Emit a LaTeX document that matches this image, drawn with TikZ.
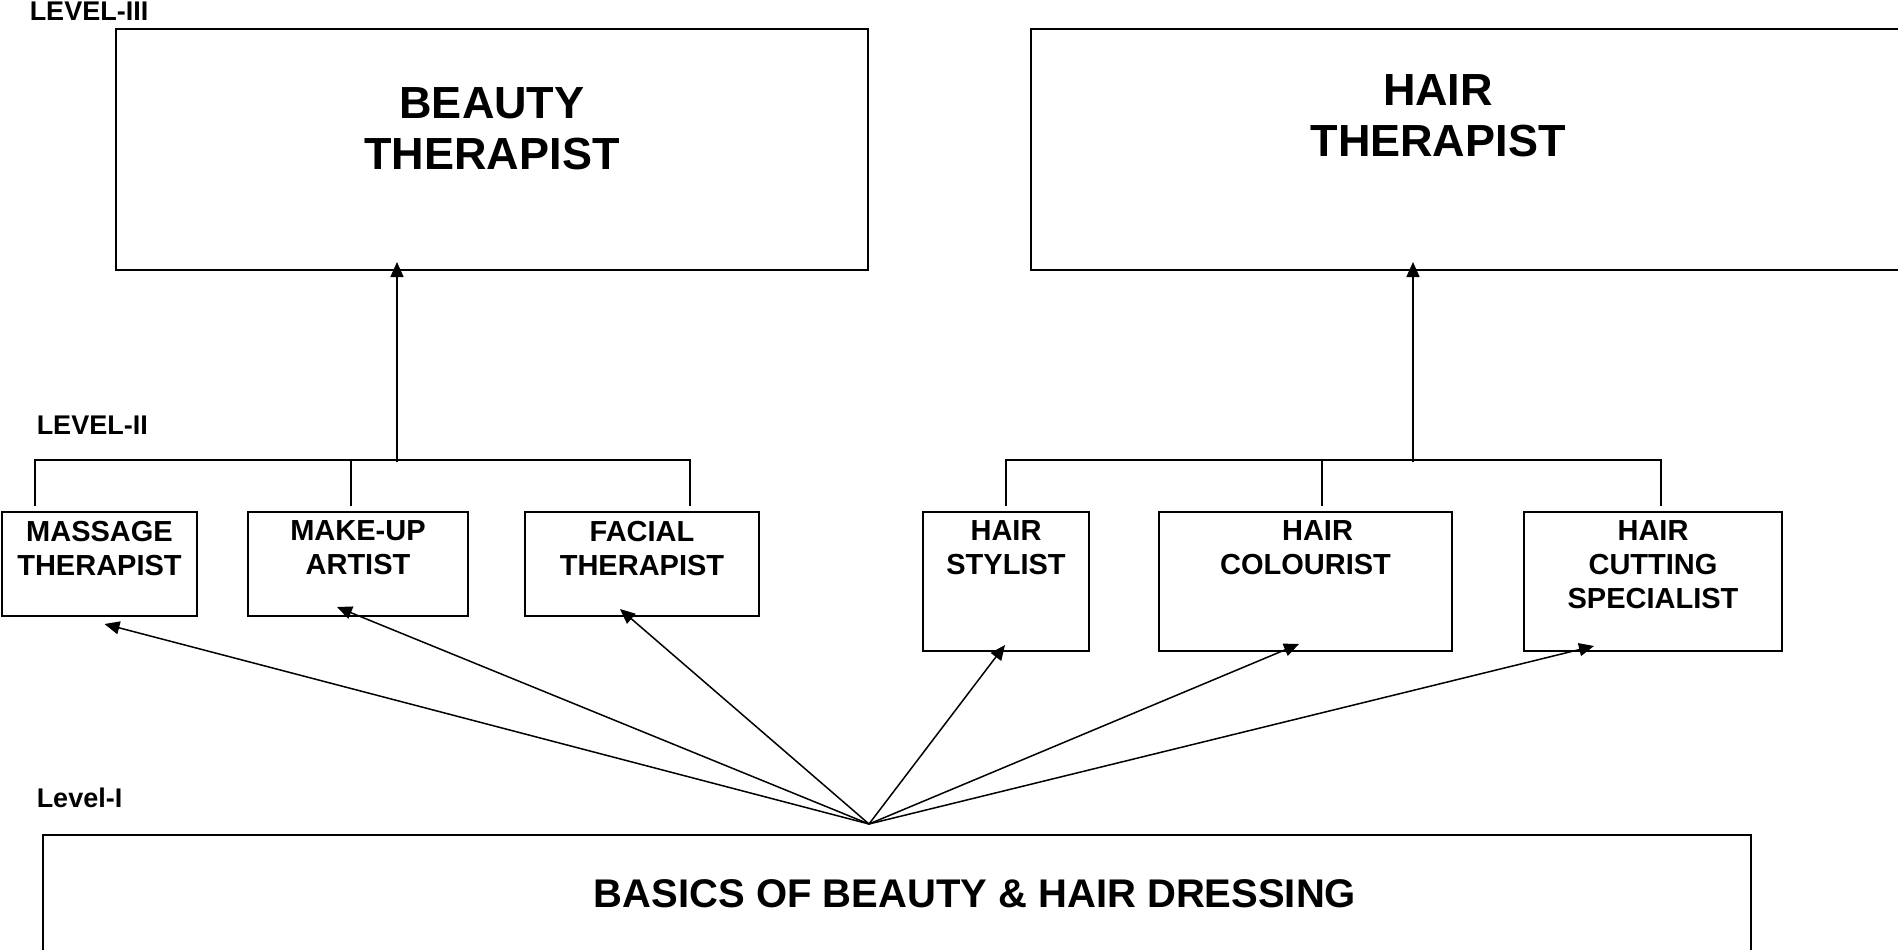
\documentclass[tikz,border=0pt]{standalone}
\usepackage{fontspec}
\setmainfont{Liberation Sans}
\usepackage{tikz}
\usetikzlibrary{positioning,arrows.meta}

\begin{document}
\begin{tikzpicture}[x=1pt,y=-1pt,line width=1.5pt]
\tikzset{jobbox/.style=
	{draw,line width=2pt,anchor=north west,inner sep=0pt},
	jobtext/.style=
	{inner sep=0pt,align=center,font=\bfseries\fontsize{29}{34}\selectfont},
	bigtext/.style=
	{inner sep=0pt,align=center,font=\bfseries\fontsize{45}{51}\selectfont},
	leveltext/.style=
	{inner sep=0pt,anchor=west,font=\bfseries\fontsize{27}{31}\selectfont},
	uparrow/.style=
	{-{Triangle[length=15pt,width=13pt]}}}
\clip (0,0) rectangle (1898,950);

\node[leveltext] (lvlthree) at (29,11) {LEVEL-III};
\node[jobbox,minimum width=752pt,minimum height=241pt] (beauty) at (115,28) {};
\node[bigtext,below=59pt of beauty.north] (beautytxt) {BEAUTY\\THERAPIST};
\node[jobbox,minimum width=900pt,minimum height=241pt] (hair) at (1030,28) {};
\node[bigtext,below=46pt of hair.north,xshift=-43pt] (hairtxt) {HAIR\\THERAPIST};

\node[leveltext] (lvltwo) at (36,425) {LEVEL-II};
\node[jobbox,minimum width=195pt,minimum height=104pt] (massage) at (1,511) {};
\node[jobtext,below=9pt of massage.north] (massagetxt) {MASSAGE\\THERAPIST};
\node[jobbox,minimum width=220pt,minimum height=104pt] (makeup) at (247,511) {};
\node[jobtext,below=9pt of makeup.north] (makeuptxt) {MAKE-UP\\ARTIST};
\node[jobbox,minimum width=234pt,minimum height=104pt] (facial) at (524,511) {};
\node[jobtext,below=9pt of facial.north] (facialtxt) {FACIAL\\THERAPIST};
\node[jobbox,minimum width=166pt,minimum height=139pt] (stylist) at (922,511) {};
\node[jobtext,below=9pt of stylist.north] (stylisttxt) {HAIR\\STYLIST};
\node[jobbox,minimum width=293pt,minimum height=139pt] (colourist) at (1158,511) {};
\node[jobtext,below=9pt of colourist.north] (colouristtxt) {\hspace*{24pt}HAIR\\COLOURIST};
\node[jobbox,minimum width=258pt,minimum height=139pt] (cutting) at (1523,511) {};
\node[jobtext,below=9pt of cutting.north] (cuttingtxt) {HAIR\\CUTTING\\SPECIALIST};

\node[leveltext] (lvlone) at (36,798) {Level-I};
\node[jobbox,minimum width=1708pt,minimum height=130pt] (basics) at (42,834) {};
\node[inner sep=0pt,font=\bfseries\fontsize{40}{46}\selectfont,
	below=45pt of basics.north,xshift=78pt] (basicstxt) {BASICS OF BEAUTY \& HAIR DRESSING};

\coordinate (bleft) at (35,506);
\coordinate (bbus) at (690,460);
\coordinate (bright) at (690,506);
\coordinate (bmid) at (351,506);
\coordinate (bstem) at (397,462);
\draw (bleft) |- (bbus) -- (bright);
\draw (bmid) -- (bmid |- bbus);
\draw[uparrow,shorten >=-9pt] (bstem) -- (bstem |- beauty.south);

\coordinate (hleft) at (1006,506);
\coordinate (hbus) at (1661,460);
\coordinate (hright) at (1661,506);
\coordinate (hmid) at (1322,506);
\coordinate (hstem) at (1413,462);
\draw (hleft) |- (hbus) -- (hright);
\draw (hmid) -- (hmid |- hbus);
\draw[uparrow,shorten >=-9pt] (hstem) -- (hstem |- hair.south);

\coordinate (src) at (869,824);
\draw[uparrow] (src) -- ([xshift=5pt,yshift=-7pt]massage.south);
\draw[uparrow] (src) -- ([xshift=-21pt,yshift=10pt]makeup.south);
\draw[uparrow] (src) -- ([xshift=-22pt,yshift=8pt]facial.south);
\draw[uparrow] (src) -- ([xshift=-1pt,yshift=7pt]stylist.south);
\draw[uparrow] (src) -- ([xshift=-6.5pt,yshift=8pt]colourist.south);
\draw[uparrow] (src) -- ([xshift=-59pt,yshift=6pt]cutting.south);
\end{tikzpicture}
\end{document}
